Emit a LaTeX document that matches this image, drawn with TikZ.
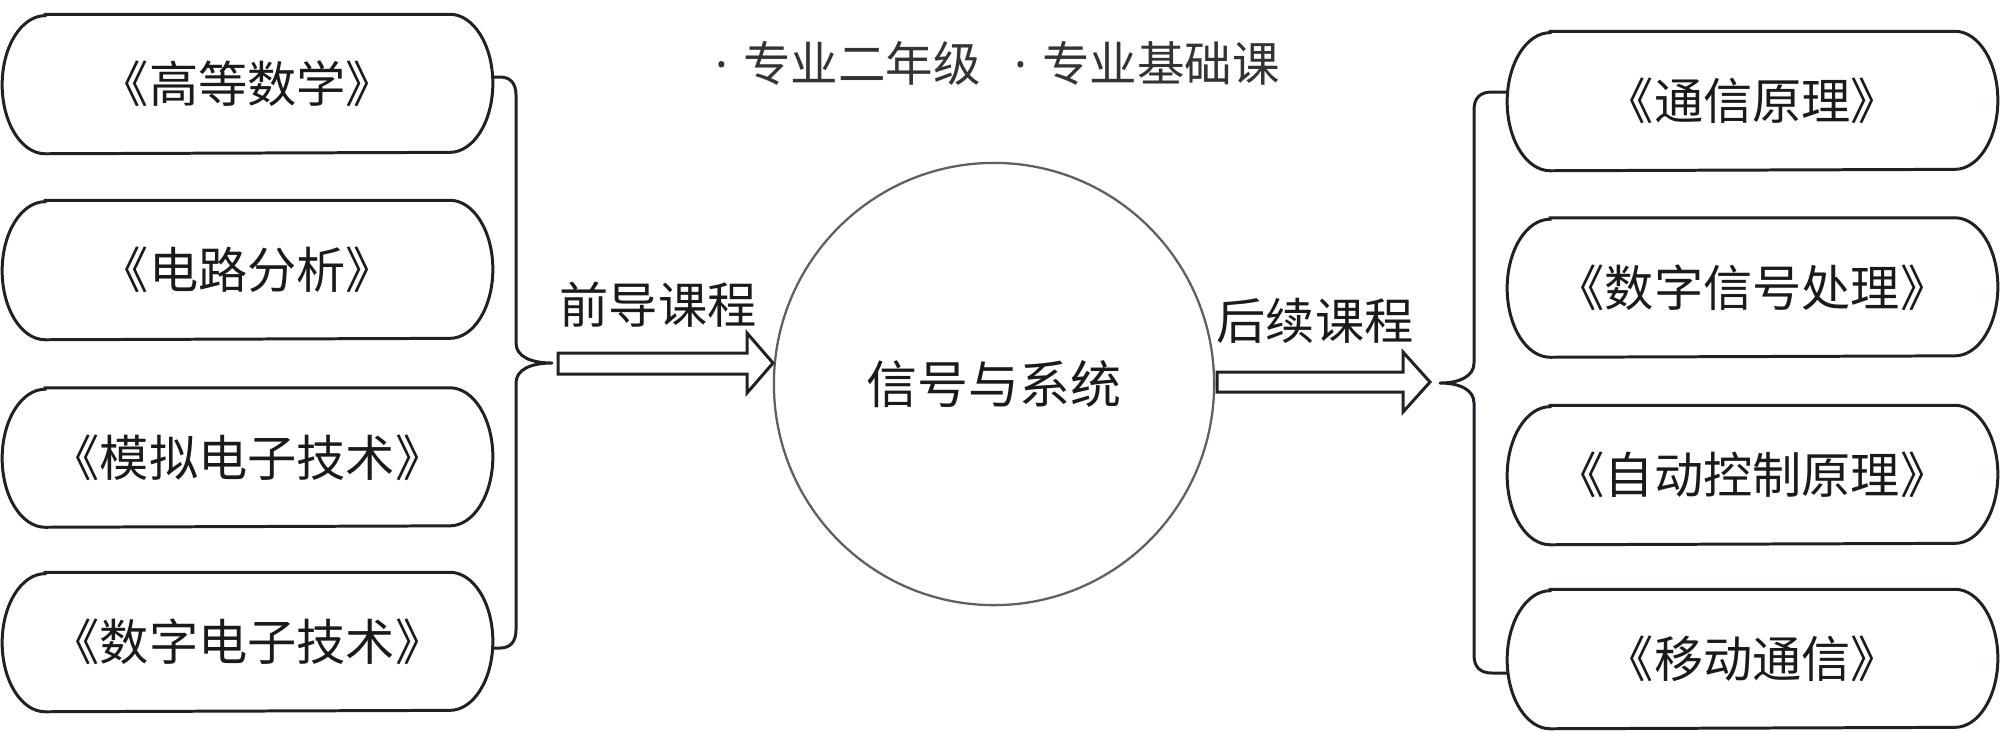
\documentclass[tikz,border=0pt]{standalone}
\usepackage{fontspec}
\newfontfamily\cjk{Noto Sans CJK SC}
\newfontfamily\latin{Noto Sans}
\usetikzlibrary{shapes.geometric}
\definecolor{ink}{HTML}{1E2126}
\definecolor{txt}{HTML}{1A1A1A}
\definecolor{toptxt}{HTML}{333333}
\definecolor{ring}{HTML}{606060}
\tikzset{
  boxline/.style={draw=ink, line width=0.85pt},
  course/.style={inner sep=0pt, minimum width=4.89cm, minimum height=1.38cm,
    font=\cjk\fontsize{14pt}{17pt}\selectfont, text=txt},
  bracestyle/.style={draw=ink, line width=0.85pt, line cap=round, line join=round},
  hollowarrow/.style={draw=ink, line width=0.85pt, fill=white, line join=miter},
  label/.style={font=\cjk\fontsize{14pt}{17pt}\selectfont, text=txt, inner sep=0pt},
  toplabel/.style={font=\cjk\fontsize{13.5pt}{16pt}\selectfont, text=toptxt, inner sep=0pt, anchor=west},
  core/.style={ellipse, draw=ring, line width=0.65pt, minimum width=4.40cm, minimum height=4.42cm,
    font=\cjk\fontsize{14.5pt}{17pt}\selectfont, text=txt, inner sep=0pt}
}
\newcommand\courseshape[1]{%
  \draw[boxline] ([xshift=0.43cm]#1.north west) -- ([xshift=-0.43cm]#1.north east)
    arc[start angle=90, end angle=-90, x radius=0.43cm, y radius=0.69cm]
    -- ([xshift=0.43cm]#1.south west)
    arc[start angle=270, end angle=90, x radius=0.43cm, y radius=0.69cm] -- cycle;}
\newcommand\topdot{{\latin\textperiodcentered}\hspace{0.15cm}}
\begin{document}
\begin{tikzpicture}[x=0.01cm, y=-0.01cm]
\path[use as bounding box] (0,0) rectangle (2000,732);

% left courses
\node[course] (L1) at (247.5,84) {《高等数学》};
\node[course] (L2) at (247.5,270) {《电路分析》};
\node[course] (L3) at (247.5,457.5) {《模拟电子技术》};
\node[course] (L4) at (247.5,642) {《数字电子技术》};
\courseshape{L1}\courseshape{L2}\courseshape{L3}\courseshape{L4}

% right courses
\node[course] (R1) at (1752.5,101) {《通信原理》};
\node[course] (R2) at (1752.5,287.5) {《数字信号处理》};
\node[course] (R3) at (1752.5,475) {《自动控制原理》};
\node[course] (R4) at (1752.5,659) {《移动通信》};
\courseshape{R1}\courseshape{R2}\courseshape{R3}\courseshape{R4}

% centre
\node[core] (C) at (994,384) {信号与系统};

% top notes
\node[toplabel] (t1) at (715,63) {\topdot 专业二年级};
\node[toplabel] (t2) at (1014,63) {\topdot 专业基础课};

% braces
\coordinate (ltip) at (552,363);
\coordinate (rtip) at (1440,383);
\draw[bracestyle] ([yshift=0.07cm]L1.east) -- (500,77) .. controls (510,77) and (516,83) .. (516,95)
  -- (516,343) .. controls (516,356) and (530,363) .. (ltip)
  .. controls (530,363) and (516,370) .. (516,383)
  -- (516,630) .. controls (516,642) and (510,648) .. (500,648) -- ([yshift=-0.06cm]L4.east);
\draw[bracestyle] ([yshift=0.09cm]R1.west) -- (1492,92) .. controls (1480,92) and (1474,98) .. (1474,110)
  -- (1474,363) .. controls (1474,376) and (1460,383) .. (rtip)
  .. controls (1460,383) and (1474,390) .. (1474,403)
  -- (1474,655) .. controls (1474,667) and (1480,673) .. (1492,673) -- ([yshift=-0.14cm]R4.west);

% hollow arrows
\coordinate (la) at (558,363.5);
\coordinate (ra) at (1217,382);
\draw[hollowarrow] ([yshift=0.105cm]la) -- (747,353) -- (747,333) -- (773,363) -- (747,393) -- (747,374) -- ([yshift=-0.105cm]la) -- cycle;
\draw[hollowarrow] ([yshift=0.10cm]ra) -- (1403,372) -- (1403,352) -- (1430,382) -- (1403,412) -- (1403,392) -- ([yshift=-0.10cm]ra) -- cycle;

\node[label] (pre) at (658,305) {前导课程};
\node[label] (post) at (1315,321) {后续课程};
\end{tikzpicture}
\end{document}
